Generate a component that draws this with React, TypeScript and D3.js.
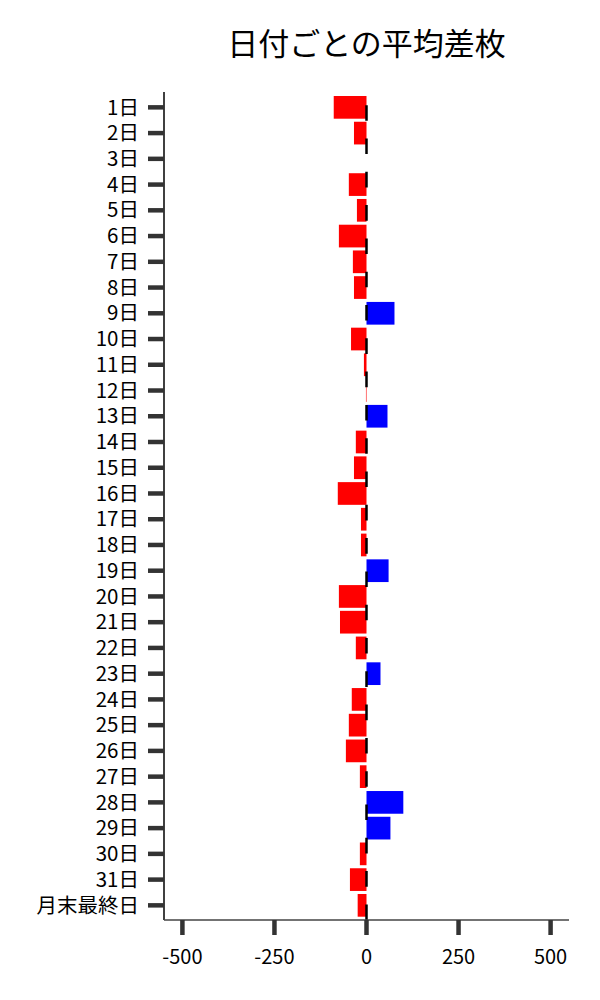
import React from "react";
import * as d3 from "d3";

const categories = [
  "1日","2日","3日","4日","5日","6日","7日","8日","9日","10日",
  "11日","12日","13日","14日","15日","16日","17日","18日","19日","20日",
  "21日","22日","23日","24日","25日","26日","27日","28日","29日","30日",
  "31日","月末最終日",
];
const values = [
  -89, -34, 0, -48, -26, -75, -37, -34, 76, -42,
  -7, -1.5, 57, -29, -34, -78, -15, -15, 60, -75,
  -72, -29, 38, -40, -48, -56, -18, 100, 65, -18,
  -45, -24,
];
const xTicks = [-500, -250, 0, 250, 500];
const title = "日付ごとの平均差枚";

const FONT = "'Noto Sans CJK JP', 'Noto Sans', sans-serif";

export default function App() {
  const left = 164, right = 569, top = 92, bottom = 920;
  const x = d3.scaleLinear().domain([-550, 550]).range([left, right]);
  const y = d3.scaleBand<string>().domain(categories).range([96, 916.7]).paddingInner(0.118).paddingOuter(0);
  const x0 = x(0);
  const period = 33.3;
  const dash = 15.6;
  return (
    <svg width={600} height={1000} style={{ position: "absolute", left: 0, top: 0, display: "block", background: "#fff" }} fontFamily={FONT}>
      <text x={(left + right) / 2} y={55} textAnchor="middle" fontSize={31} fill="#000">{title}</text>
      {categories.map((c, i) => {
        const v = values[i];
        const yy = y(c)!;
        return (
          <rect key={c} x={Math.min(x(v), x0)} y={yy} width={Math.abs(x(v) - x0)} height={y.bandwidth()} fill={v >= 0 ? "#0000ff" : "#ff0000"} />
        );
      })}
      {/* dashed zero line drawn from bottom upward */}
      <line x1={x0} x2={x0} y1={bottom} y2={top} stroke="#000" strokeWidth={2.5} strokeDasharray={`${dash} ${period - dash}`} />
      {/* y axis */}
      <line x1={left} x2={left} y1={top} y2={bottom} stroke="#000" strokeWidth={1.5} />
      {categories.map((c) => {
        const cy = y(c)! + y.bandwidth() / 2;
        return (
          <g key={"t" + c}>
            <line x1={148} x2={left} y1={cy} y2={cy} stroke="#333" strokeWidth={4.5} />
            <text x={139} y={cy} dy="0.35em" textAnchor="end" fontSize={20.5} fill="#000">{c}</text>
          </g>
        );
      })}
      {/* x axis */}
      <line x1={left} x2={right} y1={bottom} y2={bottom} stroke="#444" strokeWidth={1.5} />
      {xTicks.map((t) => (
        <g key={"x" + t}>
          <line x1={x(t)} x2={x(t)} y1={bottom} y2={bottom + 15} stroke="#333" strokeWidth={4.5} />
          <text x={x(t)} y={964} textAnchor="middle" fontSize={20} fill="#000">{t}</text>
        </g>
      ))}
    </svg>
  );
}
